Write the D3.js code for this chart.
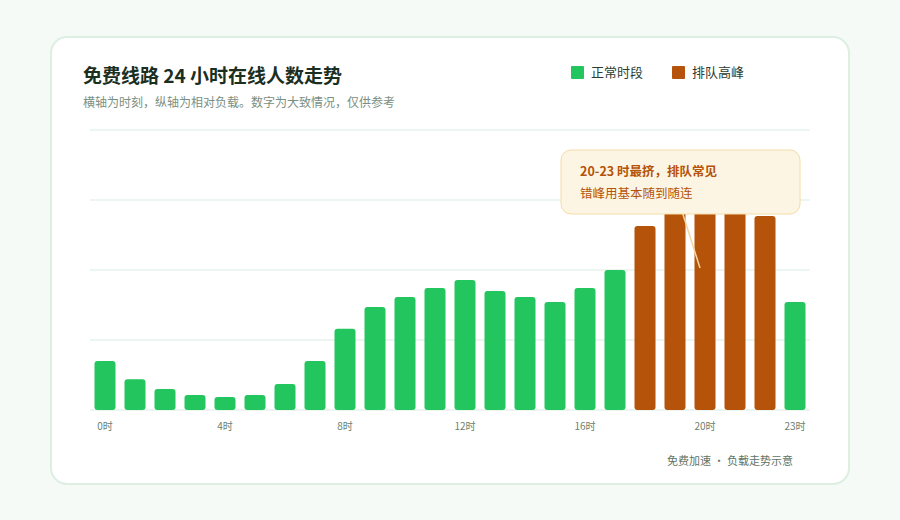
<!DOCTYPE html>
<html><head><meta charset="utf-8">
<script src="https://cdn.jsdelivr.net/npm/d3@7"></script>
<style>
body{margin:0;background:#f5faf6;font-family:"Noto Sans CJK SC","Noto Sans",sans-serif;}
</style></head>
<body>
<svg id="chart" width="900" height="520"></svg>
<script>
// 数据
var hours = d3.range(24)
var load = [17.5, 11, 7.5, 5.4, 4.6, 5.4, 9.3, 17.5, 29, 36.8, 40.4, 43.6, 46.4, 42.5, 40.4, 38.6, 43.6, 50, 65.7, 80, 86, 82, 69.3, 38.6]
var peakHours = [18, 19, 20, 21, 22]
var tickHours = [0, 4, 8, 12, 16, 20, 23]

var svg = d3.select("#chart")

// card
svg.append("rect").attr("x", 51).attr("y", 37).attr("width", 798).attr("height", 447)
    .attr("rx", 16).attr("fill", "#fff").attr("stroke", "#dcefe1").attr("stroke-width", 2)

svg.append("text").attr("x", 83).attr("y", 83).text("免费线路 24 小时在线人数走势")
    .attr("font-size", 19).attr("font-weight", 700).attr("fill", "#1a2e22")
svg.append("text").attr("x", 83).attr("y", 107).text("横轴为时刻，纵轴为相对负载。数字为大致情况，仅供参考")
    .attr("font-size", 12).attr("fill", "#7a8f82")

// legend
var legend = [["正常时段", "#22c55e", 571], ["排队高峰", "#b45309", 672]]
legend.forEach(function (l) {
    svg.append("rect").attr("x", l[2]).attr("y", 66).attr("width", 13).attr("height", 13).attr("rx", 1).attr("fill", l[1])
    svg.append("text").attr("x", l[2] + 20).attr("y", 77).text(l[0]).attr("font-size", 13).attr("fill", "#2b3b31")
})

var x = d3.scaleBand().domain(hours).range([90, 810]).paddingInner(0.3).paddingOuter(0.15)
var y = d3.scaleLinear().domain([0, 100]).range([410, 130])

// grid
svg.append("g").selectAll("line").data([0, 25, 50, 75, 100]).enter().append("line")
    .attr("x1", 90).attr("x2", 810).attr("y1", function (d) { return y(d) }).attr("y2", function (d) { return y(d) })
    .attr("stroke", "#d9ece0").attr("stroke-width", 1)

// bars
svg.append("g").selectAll("rect").data(hours).enter().append("rect")
    .attr("x", function (d) { return x(d) })
    .attr("y", function (d) { return y(load[d]) })
    .attr("width", x.bandwidth())
    .attr("height", function (d) { return y(0) - y(load[d]) })
    .attr("rx", 3)
    .attr("fill", function (d) { return peakHours.indexOf(d) >= 0 ? "#b45309" : "#22c55e" })

// x axis labels
svg.append("g").selectAll("text").data(tickHours).enter().append("text")
    .attr("x", function (d) { return x(d) + x.bandwidth() / 2 })
    .attr("y", 430).attr("text-anchor", "middle")
    .attr("font-size", 10).attr("fill", "#6b7f72")
    .text(function (d) { return d + "时" })

// callout
svg.append("line").attr("x1", 680).attr("y1", 205).attr("x2", 700).attr("y2", 268)
    .attr("stroke", "#f5d6a0").attr("stroke-width", 1.5)
svg.append("rect").attr("x", 561).attr("y", 150).attr("width", 239).attr("height", 64).attr("rx", 10)
    .attr("fill", "#fdf5e4").attr("stroke", "#f5dca5")
svg.append("text").attr("x", 580).attr("y", 176).text("20-23 时最挤，排队常见")
    .attr("font-size", 12.5).attr("font-weight", 700).attr("fill", "#b45309")
svg.append("text").attr("x", 580).attr("y", 198).text("错峰用基本随到随连")
    .attr("font-size", 12.5).attr("fill", "#b45309")

svg.append("text").attr("x", 793).attr("y", 465).attr("text-anchor", "end")
    .text("免费加速 · 负载走势示意").attr("font-size", 11).attr("fill", "#5f7366")
</script>
</body></html>
